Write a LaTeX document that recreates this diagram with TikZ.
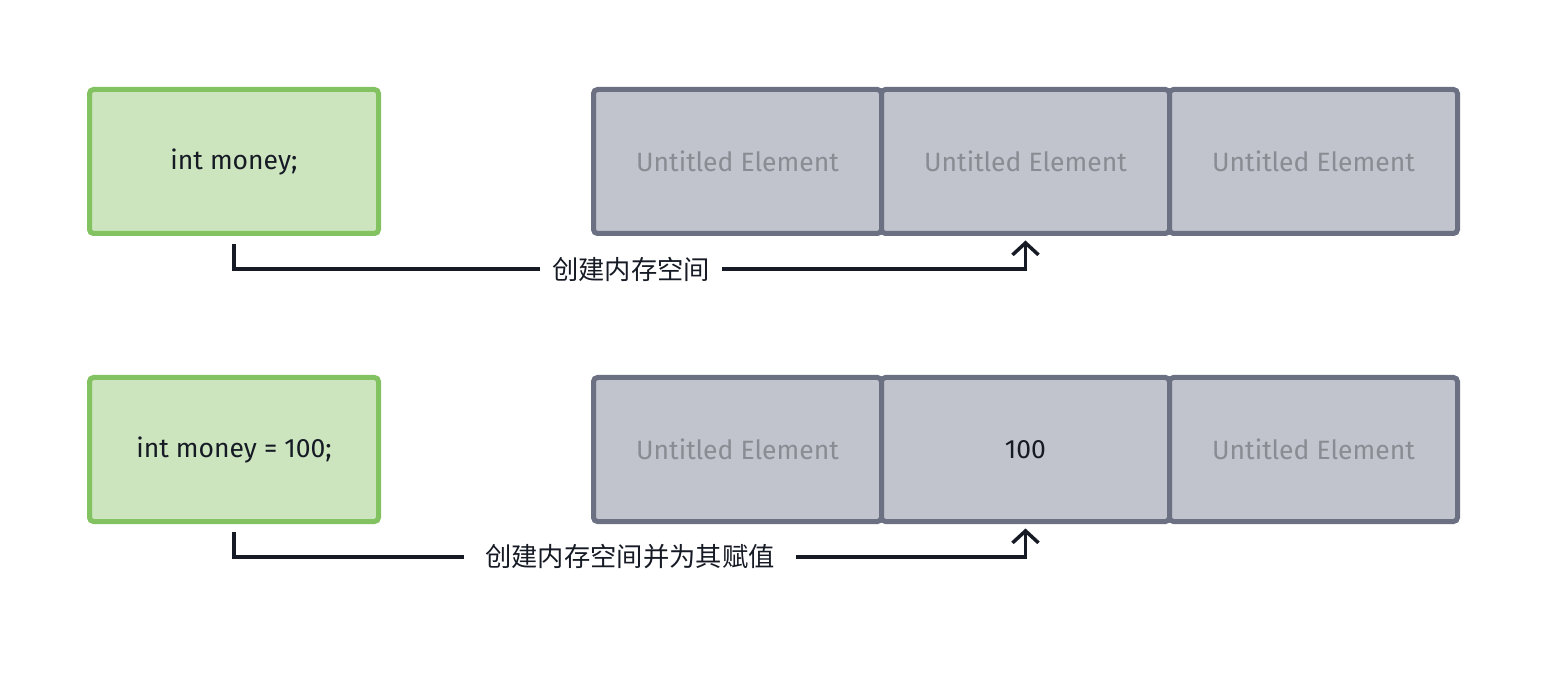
\documentclass[tikz,border=0pt]{standalone}
\usepackage{fontspec}
\setmainfont{Fira Sans}
\newfontfamily\cjk{Noto Sans CJK SC}
\usetikzlibrary{positioning, arrows.meta}

\definecolor{codefill}{HTML}{CDE5BE}
\definecolor{codeline}{HTML}{82C260}
\definecolor{cellfill}{HTML}{C1C4CC}
\definecolor{cellline}{HTML}{6B7082}
\definecolor{celltext}{HTML}{8A8C93}
\definecolor{ink}{HTML}{151A24}

\begin{document}
\begin{tikzpicture}[x=1pt, y=-1pt, node distance = 0pt,
    every node/.style={font=\fontsize{26.5}{30}\selectfont, text=ink},
    codebox/.style={draw=codeline, fill=codefill, line width=5pt, rounded corners=4pt,
                    minimum width=289pt, minimum height=144pt, inner sep=0pt, outer sep=0pt},
    cellbox/.style={draw=cellline, fill=cellfill, line width=5pt, rounded corners=4pt,
                    minimum width=288pt, minimum height=144pt, inner sep=0pt, outer sep=0pt,
                    text=celltext},
    conn/.style={draw=ink, line width=3.5pt},
    lab/.style={font=\cjk\fontsize{26.3}{30}\selectfont, inner xsep=12pt, inner ysep=0pt}]
        \useasboundingbox (0,0) rectangle (1548,684);
        % declarations
        \node (code1) [codebox] at (234,161.5) {int money;};
        \node (code2) [codebox] at (234,449.5) {int money = 100;};
        % memory cells
        \node (cell11) [cellbox] at (737.5,161.5) {Untitled Element};
        \node (cell21) [cellbox] at (737.5,449.5) {Untitled Element};
        \foreach \i [count=\xi from 1] in {2,3}
            \node (cell1\i) [cellbox, right=of cell1\xi] {Untitled Element};
        \node (cell22) [cellbox, right=of cell21, text=ink] {100};
        \node (cell23) [cellbox, right=of cell22] {Untitled Element};
        % arrows
        \node (lab1) [lab] at (631,269) {创建内存空间};
        \node (lab2) [lab, inner xsep=21pt] at (630,557) {创建内存空间并为其赋值};
        \foreach \r in {1,2} {
            \draw[conn]  ([yshift=-10.5pt]code\r.south) |- (lab\r.west);
            \draw[conn, -{Straight Barb[length=12pt, width=26pt, line width=3.5pt]}]
                (lab\r.east) -| ([yshift=-7pt]cell\r2.south);
        }
        %
        \end{tikzpicture}
\end{document}
